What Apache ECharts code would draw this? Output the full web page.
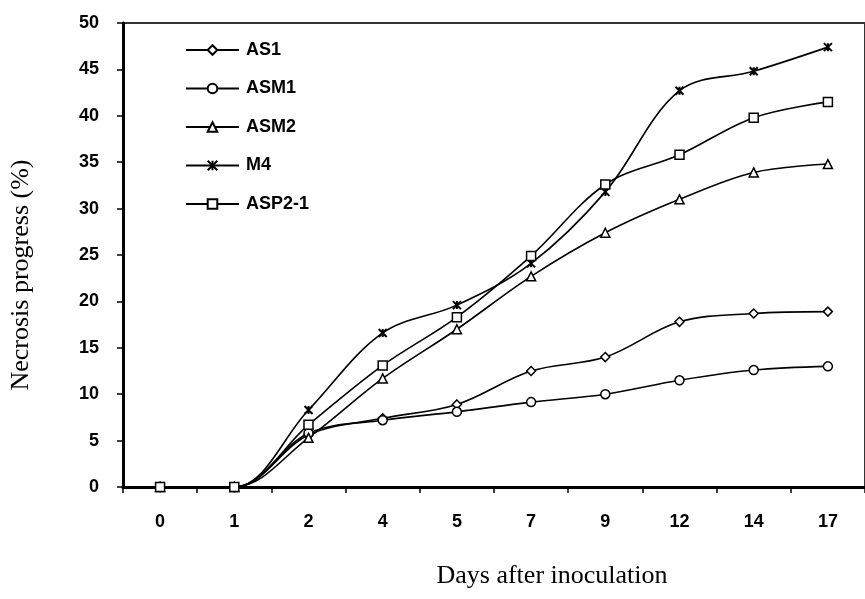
<!DOCTYPE html>
<html><head><meta charset="utf-8">
<script src="https://cdn.jsdelivr.net/npm/echarts@6/dist/echarts.min.js"></script>
<style>html,body{margin:0;padding:0;background:#fff}#c{width:865px;height:599px}</style>
</head><body><div id="c"></div>
<script>
const days = ['0','1','2','4','5','7','9','12','14','17'];
const yTicks = [0,50,5]; // min, max, interval
const AS1    = [0,0,5.6,7.4,8.9,12.5,14.0,17.8,18.7,18.9];
const ASM1   = [0,0,5.8,7.2,8.1,9.15,10.0,11.5,12.6,13.0];
const ASM2   = [0,0,5.3,11.7,17.0,22.7,27.4,31.0,33.9,34.8];
const M4     = [0,0,8.3,16.6,19.6,24.1,31.8,42.7,44.8,47.4];
const ASP2_1 = [0,0,6.7,13.1,18.3,24.9,32.6,35.8,39.8,41.5];
const xTitle = 'Days after inoculation';
const yTitle = 'Necrosis progress (%)';

const starPath = 'path://M0,0L10,10M10,0L0,10M5,0L5,10';
const sans = 'Liberation Sans';

function mk(name, data, symbol, size, bw) {
  return {
    name, type: 'line', data, smooth: 0.35,
    symbol, symbolSize: size, showAllSymbol: true,
    lineStyle: { color: '#000', width: 1.6 },
    itemStyle: { color: '#fff', borderColor: '#000', borderWidth: bw || 1.5 },
    emphasis: { disabled: true }, animation: false
  };
}

const chart = echarts.init(document.getElementById('c'));
chart.setOption({
  animation: false,
  grid: { left: 123, top: 23, width: 751, height: 464, show: true,
          borderColor: '#333', borderWidth: 2, backgroundColor: 'transparent' },
  legend: {
    orient: 'vertical', left: 185, top: 41, padding: 0,
    itemWidth: 53, itemHeight: 12, itemGap: 20.5,
    textStyle: { fontFamily: sans, fontWeight: 'bold', fontSize: 18, color: '#000', lineHeight: 18,
                 padding: [0, 0, 0, 2] },
    data: ['AS1','ASM1','ASM2','M4','ASP2-1']
  },
  xAxis: {
    type: 'category', data: days, boundaryGap: true,
    axisLine: { lineStyle: { color: '#000', width: 3 } },
    axisTick: { show: true, length: 6, lineStyle: { color: '#000', width: 1.5 } },
    axisLabel: { margin: 26, fontSize: 18, fontWeight: 'bold', fontFamily: sans, color: '#000' },
    splitLine: { show: false }
  },
  yAxis: {
    type: 'value', min: yTicks[0], max: yTicks[1], interval: yTicks[2],
    axisLine: { show: true, lineStyle: { color: '#000', width: 3 } },
    axisTick: { show: true, length: 6, lineStyle: { color: '#000', width: 1.5 } },
    axisLabel: { margin: 24, fontSize: 18, fontWeight: 'bold', fontFamily: sans, color: '#000' },
    splitLine: { show: false }
  },
  graphic: [
    { type: 'text', x: 552, y: 576, style: { text: xTitle, font: '26px "Liberation Serif"',
      fill: '#000', textAlign: 'center', textVerticalAlign: 'middle' } },
    { type: 'text', x: 21, y: 275, rotation: Math.PI / 2, style: { text: yTitle, font: '26px "Liberation Serif"',
      fill: '#000', textAlign: 'center', textVerticalAlign: 'middle' } }
  ],
  series: [
    mk('AS1', AS1, 'diamond', 9),
    mk('ASM1', ASM1, 'circle', 9),
    mk('ASM2', ASM2, 'triangle', 9),
    mk('M4', M4, starPath, 8, 2),
    mk('ASP2-1', ASP2_1, 'rect', 9)
  ]
});
</script></body></html>
